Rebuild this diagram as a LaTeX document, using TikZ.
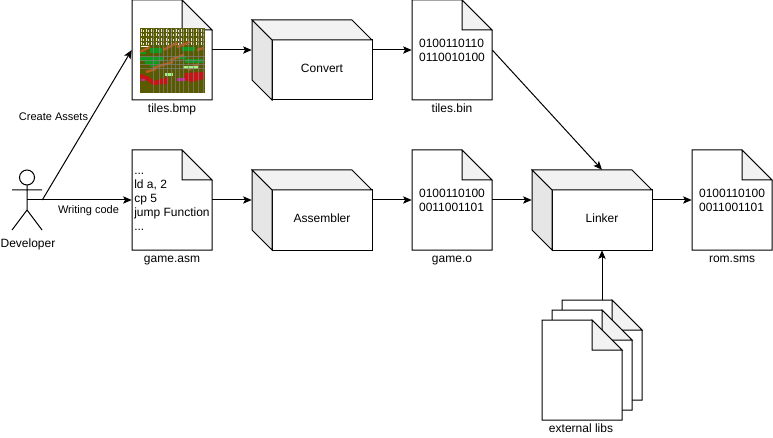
\documentclass[tikz,border=0pt]{standalone}
\usepackage{fontspec}
\setmainfont{Liberation Sans}
\usetikzlibrary{arrows.meta,backgrounds}

\definecolor{foldgray}{HTML}{F2F2F2}
\definecolor{sidegray}{HTML}{E6E6E6}
\definecolor{bmpolive}{HTML}{5A5A00}
\definecolor{bmpgreen}{HTML}{0E9A1C}
\definecolor{bmpbrown}{HTML}{B0601C}
\definecolor{bmpred}{HTML}{C81414}
\definecolor{bmplight}{HTML}{A8F080}
\definecolor{bmppink}{HTML}{C02CA0}

\tikzset{
  every node/.style={font=\fontsize{9}{10.5}\selectfont,inner sep=0pt},
  docbox/.style={minimum width=60pt,minimum height=75pt,align=left},
  cubebox/.style={minimum width=90pt,minimum height=60pt},
  fname/.style={anchor=base,yshift=-9pt},
  small/.style={font=\fontsize{8.25}{10}\selectfont},
  arr/.style={-{Stealth[length=6.5pt,width=5.5pt,inset=1.5pt]},line width=.75pt},
  outline/.style={line width=.75pt,fill=white},
  swoosh/.style={line width=1.8pt},
}

\begin{document}
\begin{tikzpicture}[x=.75pt,y=-.75pt]
  \useasboundingbox (0,0) rectangle (773,438);

  % files
  \node[docbox,label={[fname]south:tiles.bmp}] (tiles) at (172,50) {};
  \node[docbox,label={[fname]south:game.asm}] (game) at (172,200) {\rule{0pt}{4pt}...\\ld a, 2\\cp 5\\jump Function\\...};
  \node[docbox,label={[fname]south:tiles.bin}] (bin) at (452,50) {0100110110\\0110010100};
  \node[docbox,label={[fname]south:game.o}] (obj) at (452,200) {0100110100\\0011001101};
  \node[docbox,label={[fname]south:rom.sms}] (rom) at (732,200) {0100110100\\0011001101};
  \node[docbox] (lib3) at (602,350) {};
  \node[docbox] (lib2) at (592,360) {};
  \node[docbox,label={[fname,xshift=-.75pt]south:external libs}] (lib1) at (582,370) {};

  \begin{scope}[on background layer]
    \foreach \n in {tiles,game,bin,obj,rom,lib3,lib2,lib1} {
      \draw[outline,shift={(\n.center)}] (-40,-50) -- (10,-50) -- (40,-20) -- (40,50) -- (-40,50) -- cycle;
      \draw[outline,fill=foldgray,shift={(\n.center)}] (10,-50) -- (10,-20) -- (40,-20) -- cycle;
    }
  \end{scope}

  % boxes
  \foreach \n/\x/\y/\t in {conv/312/60/Convert,asm/312/210/Assembler,link/592/210/Linker} {
    \node[cubebox,label={[anchor=center,xshift=7.5pt,yshift=-6pt]center:\t}] (\n) at (\x,\y) {};
    \coordinate (\n-w) at ([yshift=7.5pt]\n.west);
    \coordinate (\n-e) at ([yshift=7.5pt]\n.east);
    \coordinate (\n-n) at ([xshift=7.5pt]\n.north);
    \coordinate (\n-s) at ([xshift=7.5pt]\n.south);
    \begin{scope}[on background layer,shift={(\n.center)}]
      \draw[outline] (-40,-20) rectangle (60,40);
      \draw[outline,fill=foldgray] (-60,-40) -- (40,-40) -- (60,-20) -- (-40,-20) -- cycle;
      \draw[outline,fill=sidegray] (-60,-40) -- (-40,-20) -- (-40,40) -- (-60,20) -- cycle;
    \end{scope}
  }

  % developer
  \node[minimum width=22.5pt,minimum height=45pt,label={[anchor=base,xshift=.75pt,yshift=-12.75pt]south:Developer}] (dev) at (27,200) {};
  \draw[line width=.75pt] (27,177.5) circle (7.5);
  \draw[line width=.75pt] (27,185) -- (27,210) (12,190) -- (42,190) (12,230) -- (27,210) -- (42,230);

  % tiles.bmp picture
  \fill[bmpolive] (140,28) rectangle (205,93);
  \foreach \y in {29,33.5,38,42.5} {
    \foreach \x in {141,146,...,201} {
      \fill[white!85!bmpolive] (\x,\y) rectangle ++(1,3);
      \fill[white!85!bmpolive] (\x+1.5,\y+1) rectangle ++(1,2);
    }
  }
  \fill[white] (141,46) rectangle ++(8,1.5);
  \foreach \x/\y/\w/\h in {150/48/12/5,182/47/13/4,140/57/24/4,145/61/14/3,185/59/18/4,176/56/10/3,150/65/9/2,140/52/6/2} {
    \fill[bmpgreen] (\x,\y) rectangle ++(\w,\h);
  }
  \foreach \x/\y/\a/\b in {140/52/10/-5,163/50/14/-7,177/47/13/-5,197/50/7/-2,153/68/20/-6,146/72/10/-3,188/70/10/-6,170/60/14/-5} {
    \draw[bmpbrown,swoosh] (\x,\y) -- ++(\a,\b);
  }
  \fill[bmplight] (165,73) rectangle (173,76);
  \fill[bmplight] (183,66) rectangle (198,69);
  \fill[bmpred] (140,74) -- (147,76) -- (154,81) -- (168,77) -- (168,84) -- (153,85) -- (146,80) -- (140,78) -- cycle;
  \fill[bmpred] (185,73) -- (204,72) -- (204,79) -- (192,82) -- (184,80) -- cycle;
  \fill[bmppink] (177,78) rectangle (185,81);
  \fill[bmppink] (141,79) rectangle (145,81);
  \foreach \x in {153,159,163,167,171,175,179,183,188,193,198,203} {
    \draw[gray,opacity=.7,line width=.4pt] (\x,28) -- (\x,93);
  }
  \foreach \y in {56,60,64,68} {
    \draw[gray,opacity=.7,line width=.4pt] (140,\y) -- (205,\y);
  }

  % arrows
  \draw[arr] (dev.east) -- (tiles.west);
  \draw[arr] (dev.center) -- (game.west);
  \draw[arr] (tiles.east) -- (conv-w);
  \draw[arr] (conv-e) -- (bin.west);
  \draw[arr] (game.east) -- (asm-w);
  \draw[arr] (asm-e) -- (obj.west);
  \draw[arr] (obj.east) -- (link-w);
  \draw[arr] (link-e) -- (rom.west);
  \draw[arr] (bin.east) -- (link-n);
  \draw[arr] (lib3.north) -- (link-s);

  \draw (53.5,116.5) node[small] (assets) {Create Assets};
  \draw (88.5,210.5) node[small] (writing) {Writing code};
\end{tikzpicture}
\end{document}
